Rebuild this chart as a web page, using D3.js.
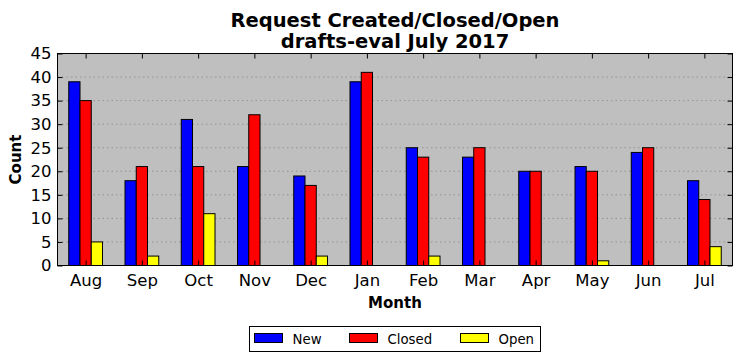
<!DOCTYPE html>
<html><head><meta charset="utf-8">
<script src="https://cdn.jsdelivr.net/npm/d3@7/dist/d3.min.js"></script>
<style>body{margin:0;background:#fff;} text{font-family:"DejaVu Sans",sans-serif;}</style>
</head><body><svg id="c" width="741" height="361"></svg>
<script>
const months = ["Aug","Sep","Oct","Nov","Dec","Jan","Feb","Mar","Apr","May","Jun","Jul"];
const seriesNames = ["New","Closed","Open"];
const seriesColors = ["#0000ff","#ff0000","#ffff00"];
const newVals = [39,18,31,21,19,39,25,23,20,21,24,18];
const closedVals = [35,21,21,32,17,41,23,25,20,20,25,14];
const openVals = [5,2,11,0,2,0,2,0,0,1,0,4];
const yTicks = [0,5,10,15,20,25,30,35,40,45];

const series = [newVals, closedVals, openVals];
const svg = d3.select("#c");
const L = 57.5, R = 732.5, T = 53.5, B = 265.5;
const x = d3.scaleLinear().domain([-0.5, months.length - 0.5]).range([L, R]);
const y = d3.scaleLinear().domain([0, 45]).range([B, T]);

svg.append("rect").attr("x", L).attr("y", T).attr("width", R - L).attr("height", B - T).attr("fill", "#bfbfbf");

// grid
svg.append("g").selectAll("line").data(yTicks.slice(1, -1)).join("line")
  .attr("x1", L).attr("x2", R).attr("y1", d => y(d)).attr("y2", d => y(d))
  .attr("stroke", "#888").attr("stroke-width", 0.8).attr("stroke-dasharray", "1.5,3");

// bars
const bw = 0.2;
series.forEach((vals, si) => {
  svg.append("g").selectAll("rect").data(vals).join("rect")
    .attr("x", (d, i) => x(i - 0.3 + si * bw))
    .attr("width", x(bw) - x(0))
    .attr("y", d => y(d))
    .attr("height", d => y(0) - y(d))
    .attr("fill", seriesColors[si])
    .attr("stroke", "#000").attr("stroke-width", d => d > 0 ? 1 : 0);
});

// frame
svg.append("rect").attr("x", L).attr("y", T).attr("width", R - L).attr("height", B - T)
  .attr("fill", "none").attr("stroke", "#000").attr("stroke-width", 1);

// axes
const xAxisB = d3.axisBottom(x).tickValues(d3.range(months.length)).tickFormat(i => months[i]).tickSizeInner(-5).tickSizeOuter(0).tickPadding(8.5);
const gxb = svg.append("g").attr("transform", `translate(0,${B})`).call(xAxisB);
const xAxisT = d3.axisTop(x).tickValues(d3.range(months.length)).tickFormat("").tickSizeInner(-5).tickSizeOuter(0);
const gxt = svg.append("g").attr("transform", `translate(0,${T})`).call(xAxisT);
const yAxisL = d3.axisLeft(y).tickValues(yTicks).tickSizeInner(-5).tickSizeOuter(0).tickPadding(6);
const gyl = svg.append("g").attr("transform", `translate(${L},0)`).call(yAxisL);
const yAxisR = d3.axisRight(y).tickValues(yTicks).tickFormat("").tickSizeInner(-5).tickSizeOuter(0);
const gyr = svg.append("g").attr("transform", `translate(${R},0)`).call(yAxisR);
[gxb, gxt, gyl, gyr].forEach(g => {
  g.select(".domain").remove();
  g.selectAll("text").attr("font-family", "DejaVu Sans").attr("font-size", 16.5).attr("fill", "#000");
  g.selectAll("line").attr("stroke", "#000");
});
gxb.selectAll("text").attr("dy", "0.71em");

// titles
svg.append("text").attr("x", (L + R) / 2).attr("y", 26.5).attr("text-anchor", "middle")
  .attr("font-size", 19.5).attr("font-weight", "bold").text("Request Created/Closed/Open");
svg.append("text").attr("x", (L + R) / 2).attr("y", 48).attr("text-anchor", "middle")
  .attr("font-size", 19.5).attr("font-weight", "bold").text("drafts-eval July 2017");
svg.append("text").attr("x", (L + R) / 2).attr("y", 308).attr("text-anchor", "middle")
  .attr("font-size", 15).attr("font-weight", "bold").text("Month");
svg.append("text").attr("transform", `translate(21,${(T + B) / 2}) rotate(-90)`).attr("text-anchor", "middle")
  .attr("font-size", 15).attr("font-weight", "bold").text("Count");

// legend
const lg = svg.append("g");
lg.append("rect").attr("x", 249.5).attr("y", 326.5).attr("width", 291).attr("height", 25)
  .attr("fill", "#fff").attr("stroke", "#000").attr("stroke-width", 1);
const legX = [254.5, 349.5, 460.5];
seriesNames.forEach((n, i) => {
  lg.append("rect").attr("x", legX[i]).attr("y", 333.5).attr("width", 28).attr("height", 9)
    .attr("fill", seriesColors[i]).attr("stroke", "#000").attr("stroke-width", 1);
  lg.append("text").attr("x", legX[i] + 38).attr("y", 343.5).attr("font-size", 13.3).text(n);
});
</script></body></html>
